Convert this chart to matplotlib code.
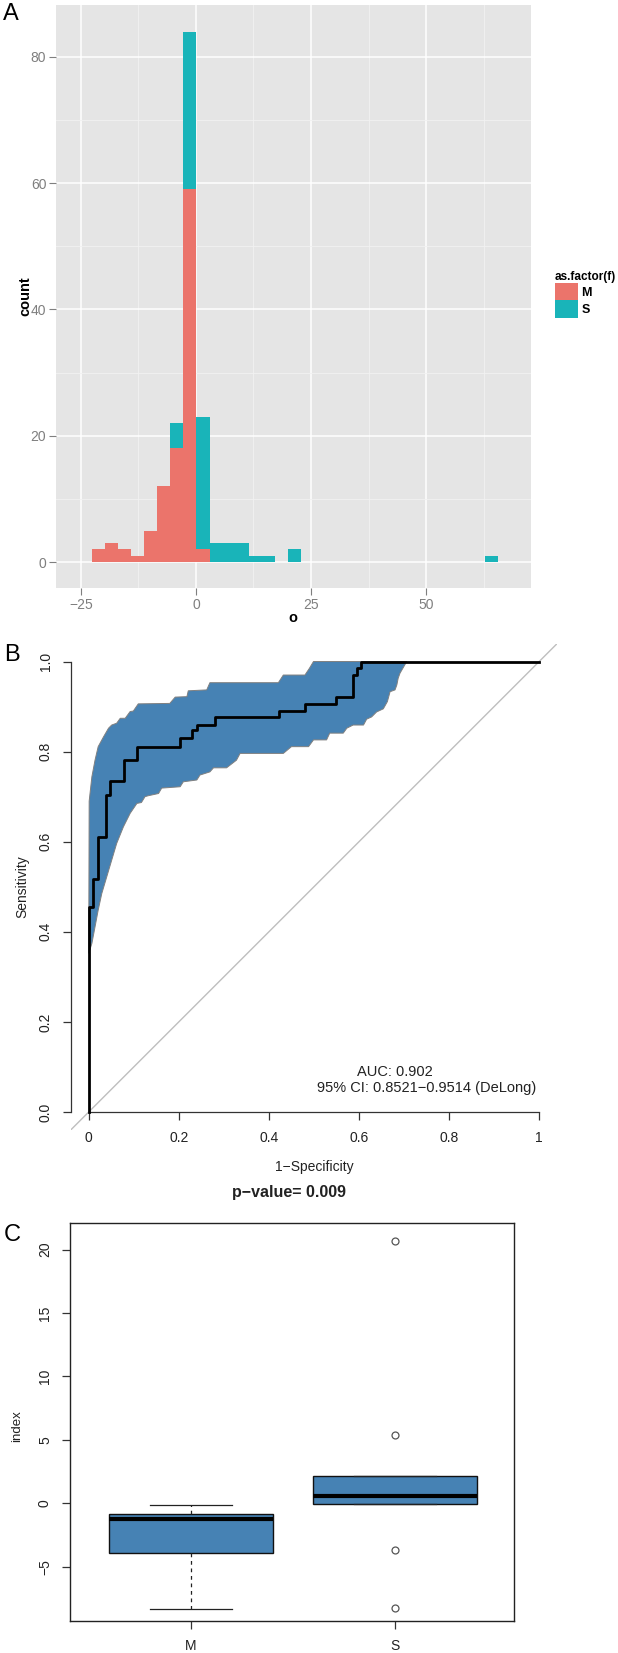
import numpy as np
import matplotlib.pyplot as plt

plt.rcParams['font.family'] = ['Liberation Sans', 'DejaVu Sans']

W, H = 618, 1653

# ---- panel A: histogram of o, stacked by f
bin_mid = [-21.26, -18.41, -15.56, -12.71, -9.86, -7.01, -4.16, -1.31,
           1.54, 4.39, 7.24, 10.09, 12.94, 15.79, 21.49, 64.24]
bin_w = 2.85
m_count = [2, 3, 2, 1, 5, 12, 18, 59, 2, 0, 0, 0, 0, 0, 0, 0]
s_count = [0, 0, 0, 0, 0, 0, 4, 25, 21, 3, 3, 3, 1, 1, 2, 1]

# ---- panel B: ROC curve (1-specificity, sensitivity) and 95% CI band
roc_fpr = [0, 0, 0.010, 0.020, 0.038, 0.047, 0.078, 0.107, 0.203, 0.230,
           0.240, 0.280, 0.423, 0.481, 0.548, 0.587, 0.595, 0.604, 1.0]
roc_tpr = [0, 0.456, 0.517, 0.610, 0.704, 0.735, 0.781, 0.811, 0.830, 0.847,
           0.859, 0.876, 0.891, 0.906, 0.922, 0.970, 0.985, 1.0, 1.0]

ci_up_x = [0.0, 0.001, 0.007, 0.014, 0.021, 0.033, 0.044, 0.051, 0.062, 0.070,
           0.081, 0.092, 0.099, 0.110, 0.180, 0.192, 0.218, 0.221, 0.262, 0.269,
           0.421, 0.432, 0.480, 0.490, 0.499, 0.706]
ci_up_y = [0.352, 0.690, 0.744, 0.781, 0.811, 0.833, 0.852, 0.859, 0.863, 0.874,
           0.874, 0.889, 0.890, 0.906, 0.907, 0.921, 0.922, 0.935, 0.937, 0.953,
           0.953, 0.970, 0.970, 0.985, 1.0, 1.0]
ci_lo_x = [0.0, 0.007, 0.014, 0.021, 0.029, 0.040, 0.051, 0.062, 0.077, 0.092,
           0.107, 0.117, 0.125, 0.132, 0.155, 0.162, 0.203, 0.210, 0.240, 0.247,
           0.269, 0.277, 0.306, 0.328, 0.336, 0.432, 0.450, 0.488, 0.499, 0.528,
           0.535, 0.565, 0.573, 0.587, 0.610, 0.617, 0.628, 0.639, 0.654, 0.663,
           0.669, 0.680, 0.684, 0.687, 0.691, 0.706]
ci_lo_y = [0.352, 0.374, 0.411, 0.448, 0.485, 0.522, 0.559, 0.596, 0.633, 0.663,
           0.685, 0.687, 0.700, 0.702, 0.707, 0.719, 0.722, 0.733, 0.737, 0.748,
           0.755, 0.764, 0.764, 0.781, 0.796, 0.796, 0.811, 0.811, 0.826, 0.826,
           0.841, 0.841, 0.852, 0.859, 0.859, 0.872, 0.877, 0.888, 0.895, 0.911,
           0.933, 0.937, 0.948, 0.963, 0.974, 1.0]

auc_line1 = 'AUC: 0.902'
auc_line2 = '95% CI: 0.8521\u22120.9514 (DeLong)'

# ---- panel C: boxplot of index by group
groups = ['M', 'S']
q1 = [-3.92, -0.08]
median = [-1.24, 0.58]
q3 = [-0.84, 2.13]
whisker_lo = [-8.3, -0.08]
whisker_hi = [-0.1, 2.13]
outliers = [[], [20.66, 5.39, -3.66, -8.26]]


def fx(px):
    return px / W


def fy(py):
    return 1 - py / H


fig = plt.figure(figsize=(W / 100, H / 100), dpi=100)

# ================= A =================
red, teal = '#EB746B', '#19B4B9'
grey_txt = '#7F7F7F'
axA = fig.add_axes([fx(56), fy(588), 475 / W, 583 / H])
axA.set_facecolor('#E5E5E5')
axA.bar(bin_mid, m_count, width=bin_w, color=red, linewidth=0, zorder=3, label='M')
axA.bar(bin_mid, s_count, width=bin_w, bottom=m_count, color=teal, linewidth=0,
        zorder=3, label='S')
axA.set_xlim(-30.4, 72.8)
axA.set_ylim(-4.1, 88.2)
axA.set_xticks([-25, 0, 25, 50])
axA.set_yticks([0, 20, 40, 60, 80])
axA.set_xticks([-12.5, 12.5, 37.5, 62.5], minor=True)
axA.set_yticks([10, 30, 50, 70], minor=True)
axA.grid(which='major', color='white', lw=1.1)
axA.grid(which='minor', color='#F2F2F2', lw=0.6)
axA.set_axisbelow(True)
for s in axA.spines.values():
    s.set_visible(False)
axA.tick_params(which='major', color=grey_txt, length=5, width=0.8,
                labelcolor=grey_txt, labelsize=10, pad=2)
axA.tick_params(which='minor', length=0)
fig.text(fx(293), fy(618), 'o', fontsize=10.5, fontweight='bold', ha='center', va='center')
fig.text(fx(25), fy(296), 'count', fontsize=10.5, fontweight='bold', rotation=90,
         ha='center', va='center')

handles, labels = axA.get_legend_handles_labels()
leg = fig.legend(handles, labels, title='as.factor(f)', loc='upper left',
                 bbox_to_anchor=(fx(546), fy(262)), frameon=False,
                 fontsize=9, title_fontproperties={'weight': 'bold', 'size': 8.5},
                 handlelength=1.85, handleheight=1.8, labelspacing=0,
                 handletextpad=0.3, borderpad=0.2)
for t in leg.get_texts():
    t.set_fontweight('bold')
leg._legend_box.align = 'left'

fig.text(fx(11), fy(14), 'A', fontsize=17, ha='center', va='center')

# ================= B =================
axB = fig.add_axes([fx(70.7), fy(1130), 486.5 / W, 486.5 / H])
axB.fill(ci_up_x + ci_lo_x[::-1], ci_up_y + ci_lo_y[::-1],
         facecolor='#4682B4', edgecolor='#808080', lw=0.7, zorder=2)
axB.axline((0, 0), (1, 1), color='#BEBEBE', lw=1.0, zorder=1)
axB.plot(roc_fpr, roc_tpr, drawstyle='steps-post', color='black', lw=2.0, zorder=3)
axB.set_xlim(-0.04, 1.04)
axB.set_ylim(-0.04, 1.04)
axB.spines['top'].set_visible(False)
axB.spines['right'].set_visible(False)
axB.spines['bottom'].set_position(('data', 0))
axB.spines['bottom'].set_bounds(0, 1)
axB.spines['left'].set_bounds(0, 1)
for s in ('bottom', 'left'):
    axB.spines[s].set_color('#333333')
    axB.spines[s].set_linewidth(0.9)
axB.set_xticks([0, 0.2, 0.4, 0.6, 0.8, 1])
axB.set_xticklabels(['0', '0.2', '0.4', '0.6', '0.8', '1'])
axB.set_yticks([0, 0.2, 0.4, 0.6, 0.8, 1])
axB.set_yticklabels(['0.0', '0.2', '0.4', '0.6', '0.8', '1.0'], rotation=90, va='center')
axB.tick_params(length=6, width=0.9, color='#333333', labelsize=10, labelcolor='#222222')
axB.tick_params(axis='x', pad=8)
axB.tick_params(axis='y', pad=7)
axB.patch.set_visible(False)
axB.text(0.68, 0.089, auc_line1, fontsize=10.5, ha='center', va='center', color='#222222')
axB.text(0.751, 0.053, auc_line2, fontsize=10.5, ha='center', va='center', color='#222222')
fig.text(fx(314), fy(1167), '1\u2212Specificity', fontsize=10, ha='center', va='center',
         color='#222222')
fig.text(fx(22), fy(887), 'Sensitivity', fontsize=10, rotation=90, ha='center',
         va='center', color='#222222')
fig.text(fx(12), fy(655), 'B', fontsize=17, ha='center', va='center')

# ================= C =================
axC = fig.add_axes([fx(70), fy(1621), 444 / W, 398 / H])
stats = []
for i, g in enumerate(groups):
    stats.append(dict(label=g, q1=q1[i], med=median[i], q3=q3[i],
                      whislo=whisker_lo[i], whishi=whisker_hi[i], fliers=outliers[i]))
axC.bxp(stats, positions=[1, 2], widths=0.8, capwidths=0.4, patch_artist=True,
        boxprops=dict(facecolor='#4682B4', edgecolor='#111111', lw=1.0),
        medianprops=dict(color='black', lw=3),
        whiskerprops=dict(color='#222222', ls=(0, (3, 3)), lw=0.9),
        capprops=dict(color='#222222', lw=0.9),
        flierprops=dict(marker='o', mfc='none', mec='#555555', ms=5, mew=0.9))
axC.set_xlim(0.41, 2.58)
axC.set_ylim(-9.28, 22.1)
axC.set_yticks([-5, 0, 5, 10, 15, 20])
axC.set_yticklabels(['\u22125', '0', '5', '10', '15', '20'], rotation=90, va='center')
for s in axC.spines.values():
    s.set_color('#222222')
    s.set_linewidth(1.0)
axC.tick_params(length=6, width=0.9, color='#333333', labelsize=10, labelcolor='#222222')
axC.tick_params(axis='x', pad=7)
axC.tick_params(axis='y', pad=7)
fig.text(fx(17), fy(1426), 'index', fontsize=9.5, rotation=90, ha='center', va='center',
         color='#222222')
fig.text(fx(289), fy(1193), 'p\u2212value= 0.009', fontsize=11.5, fontweight='bold',
         ha='center', va='center', color='#222222')
fig.text(fx(12), fy(1235), 'C', fontsize=17, ha='center', va='center')

fig.savefig('out.png', dpi=100)
